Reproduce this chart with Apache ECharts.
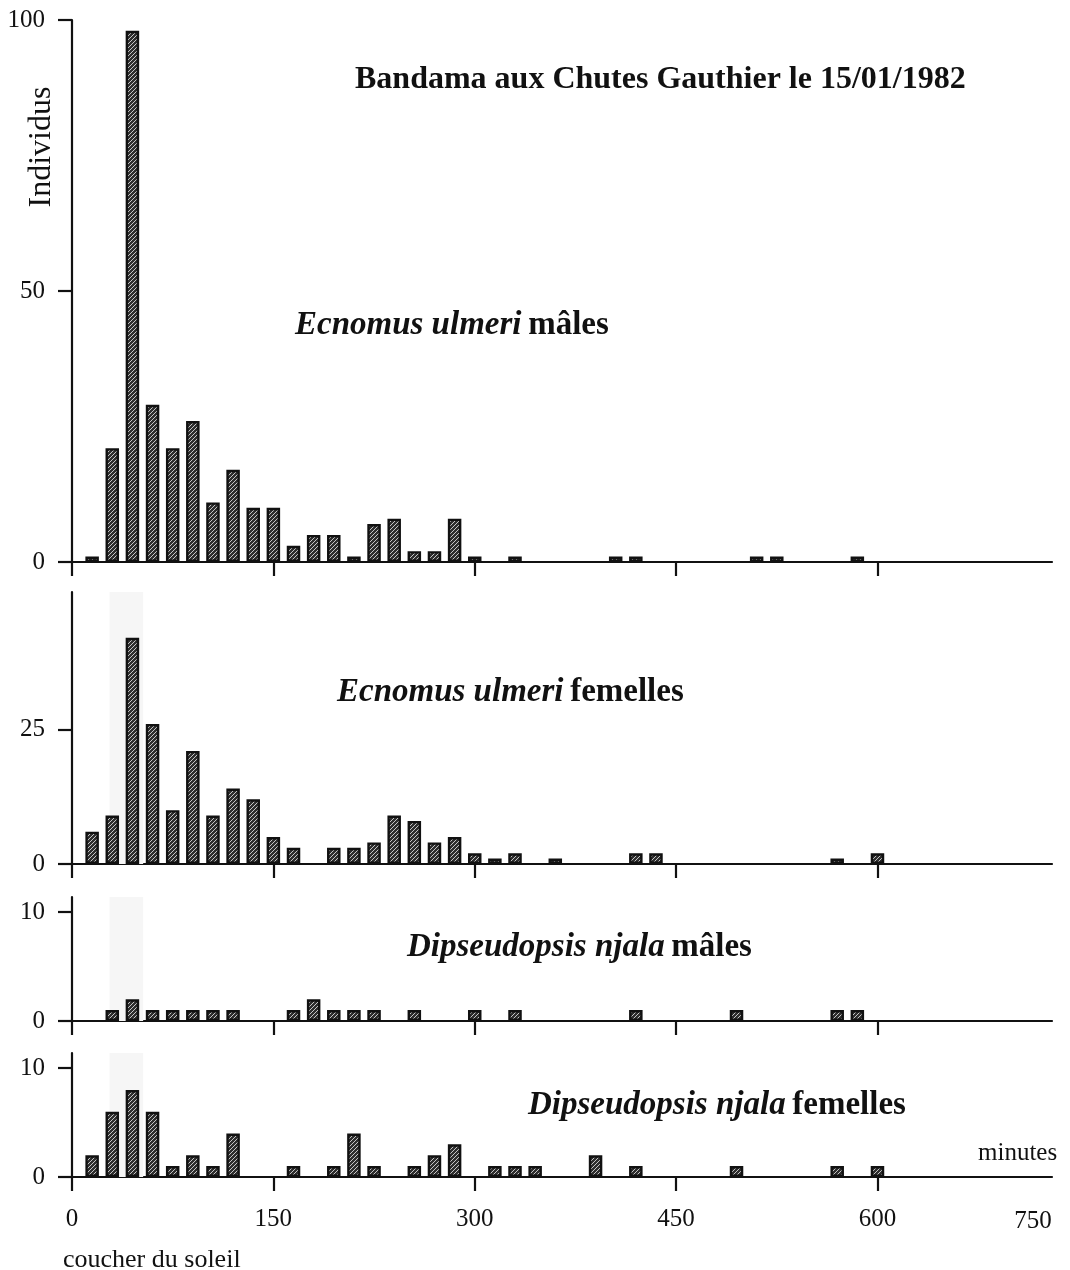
<!DOCTYPE html>
<html>
<head>
<meta charset="utf-8">
<script src="https://cdn.jsdelivr.net/npm/echarts@6/dist/echarts.min.js"></script>
<style>
html,body{margin:0;padding:0;background:#fff;}
#chart{width:1070px;height:1270px;}
</style>
</head>
<body>
<div id="chart"></div>
<script>
// ---- data (minutes after sunset, number of individuals) ----
const xTicks = [0, 150, 300, 450, 600];
const xLastLabel = '750';

const ecMalesTime  = [15,30,45,60,75,90,105,120,135,150,165,180,195,210,225,240,255,270,285,300,330,405,420,510,525,585];
const ecMalesCount = [1,21,98,29,21,26,11,17,10,10,3,5,5,1,7,8,2,2,8,1,1,1,1,1,1,1];

const ecFemTime  = [15,30,45,60,75,90,105,120,135,150,165,195,210,225,240,255,270,285,300,315,330,360,420,435,570,600];
const ecFemCount = [6,9,42,26,10,21,9,14,12,5,3,3,3,4,9,8,4,5,2,1,2,1,2,2,1,2];

const dnMalesTime  = [30,45,60,75,90,105,120,165,180,195,210,225,255,300,330,420,495,570,585];
const dnMalesCount = [1,2,1,1,1,1,1,1,2,1,1,1,1,1,1,1,1,1,1];

const dnFemTime  = [15,30,45,60,75,90,105,120,165,195,210,225,255,270,285,315,330,345,390,420,495,570,600];
const dnFemCount = [2,6,8,6,1,2,1,4,1,1,4,1,1,2,3,1,1,1,2,1,1,1,1];

const yTicks1 = [0, 50, 100];
const yTicks2 = [0, 25];
const yTicks3 = [0, 10];
const yTicks4 = [0, 10];

const sunsetBand = [28, 53];

// ---- styling ----
const FONT = '"Liberation Serif", "Times New Roman", serif';
const INK = '#111';

function makePattern() {
  const c = document.createElement('canvas');
  c.width = 4; c.height = 4;
  const g = c.getContext('2d');
  g.fillStyle = '#2e2e2e';
  g.fillRect(0, 0, 4, 4);
  g.strokeStyle = '#c4c4c4';
  g.lineWidth = 1.0;
  g.beginPath();
  g.moveTo(-1, 5); g.lineTo(5, -1);
  g.moveTo(-1, 1); g.lineTo(1, -1);
  g.moveTo(3, 5); g.lineTo(5, 3);
  g.stroke();
  return c;
}
const pattern = { image: makePattern(), repeat: 'repeat' };

const grids = [
  { left: 72, right: 18, top: 20,   height: 542 },
  { left: 72, right: 18, top: 592,  height: 272 },
  { left: 72, right: 18, top: 897,  height: 124 },
  { left: 72, right: 18, top: 1053, height: 124 }
];
const yMax = [100, 50.5, 11.4, 11.4];
const yTickSets = [yTicks1, yTicks2, yTicks3, yTicks4];
const times = [ecMalesTime, ecFemTime, dnMalesTime, dnFemTime];
const counts = [ecMalesCount, ecFemCount, dnMalesCount, dnFemCount];

const xAxes = grids.map((g, i) => ({
  gridIndex: i, type: 'value', min: 0, max: 730,
  axisLine: { show: true, lineStyle: { color: INK, width: 2.2 } },
  axisTick: { show: true, length: 14, customValues: xTicks, lineStyle: { color: INK, width: 2.2 } },
  axisLabel: { show: i === 3, customValues: xTicks, margin: 30, fontFamily: FONT, fontSize: 25, color: INK },
  splitLine: { show: false }
}));

const yAxes = grids.map((g, i) => ({
  gridIndex: i, type: 'value', min: 0, max: yMax[i],
  axisLine: { show: true, onZero: false, lineStyle: { color: INK, width: 2.2 } },
  axisTick: { show: true, length: 14, customValues: yTickSets[i], lineStyle: { color: INK, width: 2.2 } },
  axisLabel: { show: true, customValues: yTickSets[i], margin: 27, fontFamily: FONT, fontSize: 25, color: INK },
  splitLine: { show: false }
}));

const series = [];
grids.forEach((g, i) => {
  if (i > 0) {
    series.push({
      type: 'line', xAxisIndex: i, yAxisIndex: i, data: [], z: 0, silent: true,
      markArea: {
        silent: true,
        itemStyle: { color: '#f6f6f6' },
        data: [[{ xAxis: sunsetBand[0] }, { xAxis: sunsetBand[1] }]]
      }
    });
  }
  series.push({
    type: 'bar', xAxisIndex: i, yAxisIndex: i, z: 3,
    barWidth: 13.5,
    data: times[i].map((t, k) => [t, counts[i][k]]),
    itemStyle: { color: pattern, borderColor: '#111', borderWidth: 2.4 },
    emphasis: { disabled: true }
  });
});

function panelTitle(left, centerY, italicPart, plainPart) {
  return {
    type: 'text', left: left, top: centerY - 14, z: 10,
    style: {
      text: '{i|' + italicPart + '}  {b|' + plainPart + '}',
      rich: {
        i: { fontFamily: FONT, fontSize: 33, fontStyle: 'italic', fontWeight: 'bold', fill: INK },
        b: { fontFamily: FONT, fontSize: 33, fontWeight: 'bold', fill: INK }
      }
    }
  };
}

const option = {
  backgroundColor: '#fff',
  animation: false,
  grid: grids,
  xAxis: xAxes,
  yAxis: yAxes,
  series: series,
  graphic: [
    { type: 'text', left: 355, top: 64, z: 10,
      style: { text: 'Bandama aux Chutes Gauthier le 15/01/1982', fontFamily: FONT, fontSize: 32, fontWeight: 'bold', fill: INK } },
    { type: 'text', x: 42, y: 147, rotation: Math.PI / 2, z: 10,
      style: { text: 'Individus', fontFamily: FONT, fontSize: 32, fill: INK, align: 'center', verticalAlign: 'middle' } },
    panelTitle(295, 323, 'Ecnomus ulmeri', 'mâles'),
    panelTitle(337, 690, 'Ecnomus ulmeri', 'femelles'),
    panelTitle(407, 945, 'Dipseudopsis njala', 'mâles'),
    panelTitle(528, 1103, 'Dipseudopsis njala', 'femelles'),
    { type: 'text', left: 978, top: 1141, z: 10,
      style: { text: 'minutes', fontFamily: FONT, fontSize: 25, fill: INK } },
    { type: 'text', left: 63, top: 1247, z: 10,
      style: { text: 'coucher du soleil', fontFamily: FONT, fontSize: 26, fill: INK } },
    { type: 'text', x: 1033, y: 1221, z: 10,
      style: { text: xLastLabel, fontFamily: FONT, fontSize: 25, fill: INK, align: 'center', verticalAlign: 'middle' } }
  ]
};

const chart = echarts.init(document.getElementById('chart'), null, { renderer: 'canvas' });
chart.setOption(option);
</script>
</body>
</html>
